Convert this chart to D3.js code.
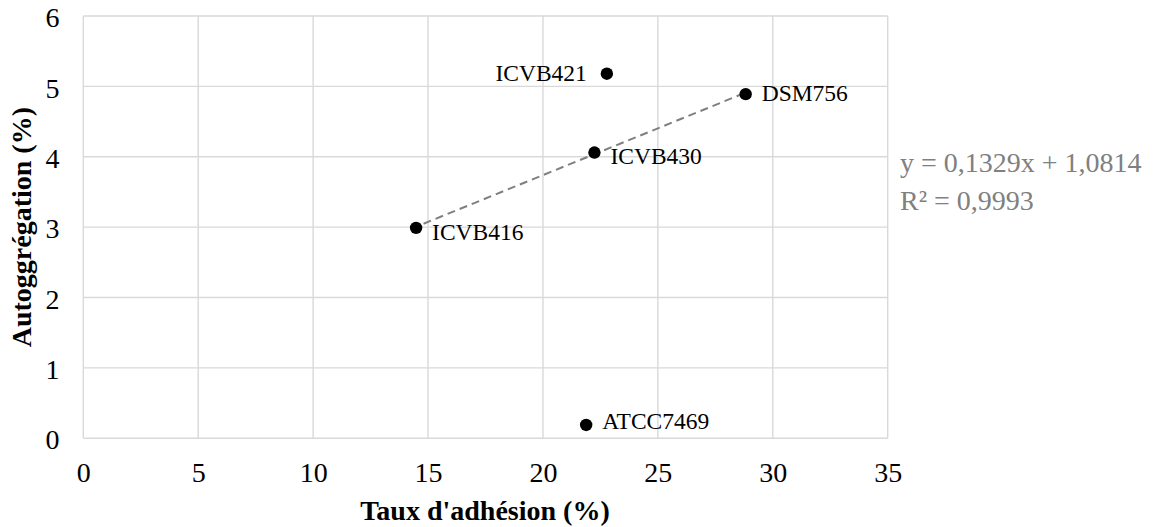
<!DOCTYPE html>
<html><head><meta charset="utf-8">
<script src="https://cdn.jsdelivr.net/npm/d3@7"></script>
<style>body{margin:0;background:#fff}svg{display:block}
svg text{font-family:'Liberation Serif','Times New Roman',serif;}</style>
</head><body>
<svg id="c" width="1163" height="527"></svg>
<script>
const strains = ["ICVB421","DSM756","ICVB430","ICVB416","ATCC7469"];
const adhesion = [22.78, 28.82, 22.24, 14.48, 21.88];
const autoagg = [5.18, 4.89, 4.06, 2.99, 0.19];
const labelSide = ["left","right","right","right","right"];
const trendStrains = ["DSM756","ICVB430","ICVB416"];
const trendSlope = 0.1329, trendIntercept = 1.0814;
const trendLabel = ["y = 0,1329x + 1,0814","R² = 0,9993"];
const xTicks = [0,5,10,15,20,25,30,35];
const yTicks = [0,1,2,3,4,5,6];
const xTitle = "Taux d'adhésion (%)";
const yTitle = "Autoggrégation (%)";

const labelNudge = {ICVB430:4, ICVB416:4.5, ATCC7469:-4, DSM756:-1};

const svg = d3.select("#c");
const font = "'Liberation Serif','Times New Roman',serif";
const L=83.3,R=887.7,T=16,B=438.3;
const x = d3.scaleLinear().domain([0,35]).range([L,R]);
const y = d3.scaleLinear().domain([0,6]).range([B,T]);

// grid
svg.append("g").selectAll("line").data(xTicks).join("line")
 .attr("x1",d=>x(d)).attr("x2",d=>x(d)).attr("y1",T).attr("y2",B)
 .attr("stroke","#d9d9d9").attr("stroke-width",1.4);
svg.append("g").selectAll("line").data(yTicks).join("line")
 .attr("x1",L).attr("x2",R).attr("y1",d=>y(d)).attr("y2",d=>y(d))
 .attr("stroke","#d9d9d9").attr("stroke-width",1.4);

// axes (labels only)
const xa = svg.append("g").attr("transform",`translate(0,${481.5})`)
 .call(d3.axisBottom(x).tickValues(xTicks).tickFormat(d3.format("d")).tickSize(0).tickPadding(0));
xa.attr("font-family",null).attr("font-size",null);
xa.select(".domain").remove();
xa.selectAll("text").style("font-family",font).style("font-size","28px").attr("fill","#000").attr("dy","0").attr("y",0);
const ya = svg.append("g").attr("transform",`translate(59.5,0)`)
 .call(d3.axisLeft(y).tickValues(yTicks).tickFormat(d3.format("d")).tickSize(0).tickPadding(0));
ya.attr("font-family",null).attr("font-size",null);
ya.select(".domain").remove();
ya.selectAll("text").style("font-family",font).style("font-size","28px").attr("fill","#000").attr("dy","0.38em");

// trendline
const pts = strains.map((s,i)=>({s,x:adhesion[i],y:autoagg[i],side:labelSide[i]}));
const tp = pts.filter(p=>trendStrains.includes(p.s));
const tx = d3.extent(tp,p=>p.x);
const tx0 = tx[0]-0.2;
svg.append("line")
 .attr("x1",x(tx0)).attr("y1",y(trendSlope*tx0+trendIntercept))
 .attr("x2",x(tx[1])).attr("y2",y(trendSlope*tx[1]+trendIntercept))
 .attr("stroke","#7f7f7f").attr("stroke-width",2).attr("stroke-dasharray","8,5");

// points
svg.append("g").selectAll("circle").data(pts).join("circle")
 .attr("cx",d=>x(d.x)).attr("cy",d=>y(d.y)).attr("r",6.2).attr("fill","#000");
svg.append("g").selectAll("text").data(pts).join("text")
 .attr("x",d=>x(d.x)+(d.side==="left"?-20:16))
 .attr("y",d=>y(d.y)+(labelNudge[d.s]||0))
 .attr("dy","0.33em")
 .attr("text-anchor",d=>d.side==="left"?"end":"start")
 .style("font-family",font).style("font-size","23.5px").attr("fill","#000")
 .text(d=>d.s);

// equation
svg.append("g").selectAll("text").data(trendLabel).join("text")
 .attr("x",900).attr("y",(d,i)=>171.5+i*38.5)
 .style("font-family",font).style("font-size","28px").attr("fill","#808080")
 .text(d=>d);

// titles
svg.append("text").attr("x",485).attr("y",520)
 .attr("text-anchor","middle").style("font-family",font).style("font-size","28px")
 .attr("font-weight","bold").text(xTitle);
svg.append("text").attr("transform",`translate(30.5,${(T+B)/2}) rotate(-90)`)
 .attr("text-anchor","middle").style("font-family",font).style("font-size","28px")
 .attr("font-weight","bold").text(yTitle);
</script>
</body></html>
